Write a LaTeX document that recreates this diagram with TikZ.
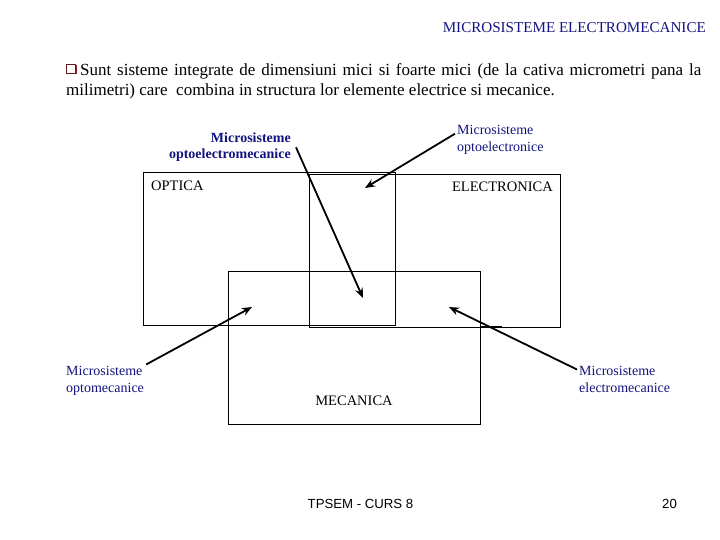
\documentclass[tikz,border=0pt]{standalone}
\usepackage{fontspec}
\setmainfont{Liberation Serif}
\newfontfamily\footfont{Liberation Sans}
\usepackage{xcolor}
\usetikzlibrary{arrows.meta}
\definecolor{slideblue}{RGB}{20,20,128}
\definecolor{bulletred}{RGB}{150,35,45}

\tikzset{
  area/.style={draw,line width=0.9pt},
  areaname/.style={font=\fontsize{14.5}{17}\selectfont,inner sep=0pt},
  sysname/.style={font=\fontsize{14}{16.5}\selectfont,text=slideblue,inner sep=2pt},
  pointer/.style={line width=1.8pt,-{Stealth[length=10pt,width=8pt]}}
}

\begin{document}
\begin{tikzpicture}[x=1pt,y=-1pt]
\fill[white] (0,0) rectangle (720,540);
\useasboundingbox (0,0) rectangle (720,540);
\node[anchor=base east,text=slideblue,font=\fontsize{15.1}{17}\selectfont,inner sep=0pt] (title) at (706,33) {MICROSISTEME ELECTROMECANICE};
\fill[bulletred] (67.5,65.5) rectangle (76.5,74.5);
\draw[bulletred!70!black,fill=white,line width=0.8pt] (66,64) rectangle (75,73);
\node[anchor=base west,inner sep=0pt,font=\fontsize{17}{20}\selectfont] (introa) at (80,76) {\makebox[621pt][s]{Sunt sisteme integrate de dimensiuni mici si foarte mici (de la cativa micrometri pana la}};
\node[anchor=base west,inner sep=0pt,font=\fontsize{17}{20}\selectfont] (introb) at (66,96) {milimetri) care \ combina in structura lor elemente electrice si mecanice.};
\draw[area] (143,172) rectangle (395,325);
\draw[area] (309,174) rectangle (560,327);
\draw[area] (228,271) rectangle (480,424);
\draw[line width=1.6pt] (219,325.5) -- (228,325.5);
\draw[line width=1.6pt] (480,327) -- (502,327);
\node[areaname,anchor=base west] (optica) at (151,191) {OPTICA};
\node[areaname,anchor=base east] (electronica) at (553,192) {ELECTRONICA};
\node[areaname,anchor=base] (mecanica) at (354,405) {MECANICA};
\node[sysname,font=\fontsize{14}{16.5}\selectfont\bfseries,align=right,inner sep=5pt,anchor=north east] (oem) at (296,127.5) {Microsisteme\\optoelectromecanice};
\node[sysname,align=left,anchor=north west] (oelec) at (455,123.5) {Microsisteme\\optoelectronice};
\node[sysname,align=left,anchor=north west] (omec) at (64,364.5) {Microsisteme\\optomecanice};
\node[sysname,align=left,anchor=north west] (emec) at (577,364.5) {Microsisteme\\electromecanice};
\coordinate (hitOE) at (365,188);
\coordinate (hitOEM) at (363,298);
\coordinate (hitOM) at (252,307);
\coordinate (hitEM) at (449,307);
\draw[pointer] (oelec.172) -- (hitOE);
\draw[pointer] (oem.east) -- (hitOEM);
\draw[pointer] (omec.north east) -- (hitOM);
\draw[pointer] (emec.168) -- (hitEM);
\node[anchor=base,inner sep=0pt,font=\footfont\fontsize{13.2}{16}\selectfont] (course) at (360.5,508) {TPSEM - CURS 8};
\node[anchor=base,inner sep=0pt,font=\footfont\fontsize{13.2}{16}\selectfont] (page) at (669.5,508) {20};
\end{tikzpicture}
\end{document}
